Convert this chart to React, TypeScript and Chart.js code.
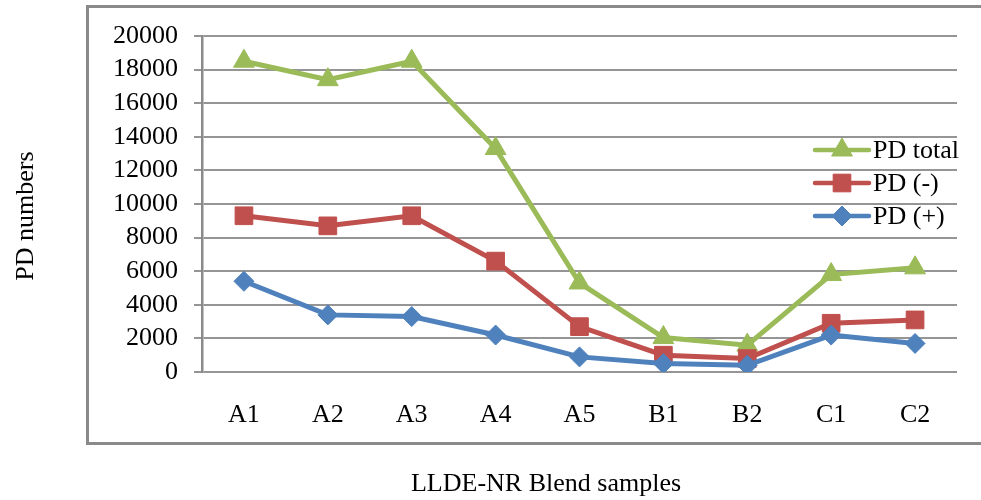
import React, { useEffect, useRef } from "react";
import { Chart, registerables } from "chart.js";

Chart.register(...registerables);

const categories = ["A1", "A2", "A3", "A4", "A5", "B1", "B2", "C1", "C2"];
const pdTotal = [18500, 17400, 18500, 13300, 5300, 2050, 1600, 5800, 6200];
const pdMinus = [9300, 8700, 9300, 6600, 2700, 1000, 800, 2900, 3100];
const pdPlus = [5400, 3400, 3300, 2200, 900, 500, 400, 2200, 1700];
const yTicks = [0, 2000, 4000, 6000, 8000, 10000, 12000, 14000, 16000, 18000, 20000];

const FONT = "'Liberation Serif', 'Times New Roman', serif";
const GREEN = "#9BBB59";
const RED = "#C0504D";
const BLUE = "#4F81BD";

function drawMarker(ctx: CanvasRenderingContext2D, style: string, r: number, x: number, y: number) {
  ctx.beginPath();
  if (style === "triangle") {
    for (let k = 0; k < 3; k++) {
      const a = (k * 2 * Math.PI) / 3;
      const px = x + Math.sin(a) * r;
      const py = y - Math.cos(a) * r;
      if (k === 0) ctx.moveTo(px, py);
      else ctx.lineTo(px, py);
    }
  } else if (style === "rect") {
    const s = Math.SQRT1_2 * r;
    ctx.rect(x - s, y - s, 2 * s, 2 * s);
  } else {
    ctx.moveTo(x - r, y);
    ctx.lineTo(x, y - r);
    ctx.lineTo(x + r, y);
    ctx.lineTo(x, y + r);
  }
  ctx.closePath();
  ctx.fill();
  ctx.stroke();
}

const decorPlugin = {
  id: "decor",
  beforeDraw(chart: any) {
    const ctx = chart.ctx;
    ctx.save();
    ctx.strokeStyle = "#8a8a8a";
    ctx.lineWidth = 3;
    ctx.strokeRect(87.5, 6.5, 1000, 437);
    ctx.restore();
  },
  afterDraw(chart: any) {
    const ctx = chart.ctx;
    const ca = chart.chartArea;
    ctx.save();
    ctx.fillStyle = "#000";
    ctx.font = `26px ${FONT}`;
    ctx.textAlign = "center";
    ctx.textBaseline = "alphabetic";
    ctx.fillText("LLDE-NR Blend samples", 546, 491);
    ctx.save();
    ctx.translate(33, 216);
    ctx.rotate(-Math.PI / 2);
    ctx.fillText("PD numbers", 0, 0);
    ctx.restore();

    const items = [...chart.data.datasets].reverse();
    const x0 = ca.right - 142;
    let y = ca.top + 114;
    items.forEach((d: any) => {
      ctx.strokeStyle = d.borderColor;
      ctx.lineWidth = 4.5;
      ctx.lineCap = "round";
      ctx.beginPath();
      ctx.moveTo(x0, y);
      ctx.lineTo(x0 + 54, y);
      ctx.stroke();
      ctx.fillStyle = d.pointBackgroundColor;
      ctx.strokeStyle = d.pointBackgroundColor;
      ctx.lineWidth = 1;
      ctx.lineCap = "butt";
      drawMarker(ctx, d.pointStyle, d.pointRadius, x0 + 27, y);
      ctx.fillStyle = "#000";
      ctx.textAlign = "left";
      ctx.textBaseline = "middle";
      ctx.font = `26px ${FONT}`;
      ctx.fillText(d.label, x0 + 58, y + 1);
      y += 33;
    });
    ctx.restore();
  },
};

export default function App() {
  const ref = useRef<HTMLCanvasElement | null>(null);
  useEffect(() => {
    if (!ref.current) return;
    const mk = (label: string, data: number[], color: string, style: string, r: number) => ({
      label,
      data,
      borderColor: color,
      backgroundColor: color,
      pointBackgroundColor: color,
      pointBorderColor: color,
      pointStyle: style,
      pointRadius: r,
      pointBorderWidth: 1,
      borderWidth: 5,
      tension: 0,
    });
    const chart = new Chart(ref.current, {
      type: "line",
      data: {
        labels: categories,
        datasets: [
          mk("PD (+)", pdPlus, BLUE, "rectRot", 10),
          mk("PD (-)", pdMinus, RED, "rect", 12.5),
          mk("PD total", pdTotal, GREEN, "triangle", 12),
        ],
      },
      options: {
        animation: false,
        responsive: false,
        maintainAspectRatio: false,
        layout: { padding: { left: 0, right: 24, top: 36, bottom: 0 } },
        plugins: { legend: { display: false }, tooltip: { enabled: false } },
        scales: {
          x: {
            offset: true,
            grid: { display: false, drawTicks: false },
            border: { display: false },
            ticks: { color: "#000", font: { family: FONT, size: 26 }, padding: 28, maxRotation: 0, autoSkip: false },
            afterFit: (s: any) => {
              s.height = 128;
            },
          },
          y: {
            min: 0,
            max: 20000,
            afterBuildTicks: (s: any) => {
              s.ticks = yTicks.map((v) => ({ value: v }));
            },
            grid: { color: "#959595", lineWidth: 2, tickLength: 8, drawTicks: true },
            border: { display: true, color: "#8a8a8a", width: 2.5 },
            ticks: {
              color: "#000",
              font: { family: FONT, size: 26 },
              padding: 16,
              autoSkip: false,
              callback: (v: any) => String(v),
            },
            afterFit: (s: any) => {
              s.width = 202;
            },
          },
        },
      },
      plugins: [decorPlugin],
    } as any);
    return () => chart.destroy();
  }, []);
  return (
    <div style={{ position: "fixed", left: 0, top: 0, width: 981, height: 500, background: "#fff" }}>
      <canvas ref={ref} width={981} height={500} style={{ display: "block" }} />
    </div>
  );
}
